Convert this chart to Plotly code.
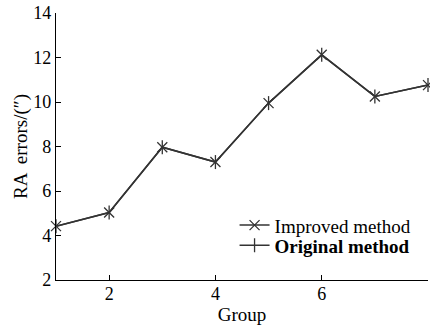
import plotly.graph_objects as go

groups = [1, 2, 3, 4, 5, 6, 7, 8]
improved = [4.42, 5.03, 7.97, 7.30, 9.95, 12.12, 10.25, 10.76]
original = [4.42, 5.03, 7.97, 7.30, 9.95, 12.12, 10.25, 10.76]
x_ticks = [2, 4, 6, 8]
y_ticks = [2, 4, 6, 8, 10, 12, 14]

FONT = "Liberation Serif"
LINE = "#333333"

fig = go.Figure()
fig.add_trace(go.Scatter(
    x=groups, y=original, mode="lines+markers", name="<b>Original method</b>",
    line=dict(color=LINE, width=1.5), cliponaxis=False, legend="legend2",
    marker=dict(symbol="line-ns-open", size=10, line=dict(color=LINE, width=1.3)),
))
fig.add_trace(go.Scatter(
    x=groups, y=improved, mode="lines+markers", name="Improved method",
    line=dict(color=LINE, width=1.5), cliponaxis=False, legend="legend",
    marker=dict(symbol="x-thin-open", size=10, line=dict(color=LINE, width=1.3)),
))

leg_common = dict(x=0.48, xanchor="left", yanchor="middle",
                  bgcolor="rgba(0,0,0,0)", font=dict(family=FONT, size=19),
                  itemwidth=30)

fig.update_layout(
    width=430, height=325,
    margin=dict(l=56, r=2, t=13, b=45),
    paper_bgcolor="white", plot_bgcolor="white",
    font=dict(family=FONT, size=18, color="black"),
    showlegend=True,
    legend=dict(y=0.205, **leg_common),
    legend2=dict(y=0.13, **leg_common),
    xaxis=dict(range=[1, 8], tickvals=x_ticks, showgrid=False, zeroline=False,
               showline=True, linecolor="black", linewidth=1.3, automargin=False,
               ticks="inside", ticklen=5, tickcolor="black", ticklabelstandoff=-3,
               title=dict(text="Group", font=dict(size=19), standoff=0)),
    yaxis=dict(range=[2, 14], tickvals=y_ticks, showgrid=False, zeroline=False,
               showline=True, linecolor="black", linewidth=1.3, automargin=False,
               ticks="inside", ticklen=5, tickcolor="black",
               title=dict(text="RA  errors/(″)", font=dict(size=19), standoff=0)),
)

fig.write_html("out.html", config={"displayModeBar": False},
               post_script="document.body.style.margin='0';document.body.style.overflow='hidden';")
